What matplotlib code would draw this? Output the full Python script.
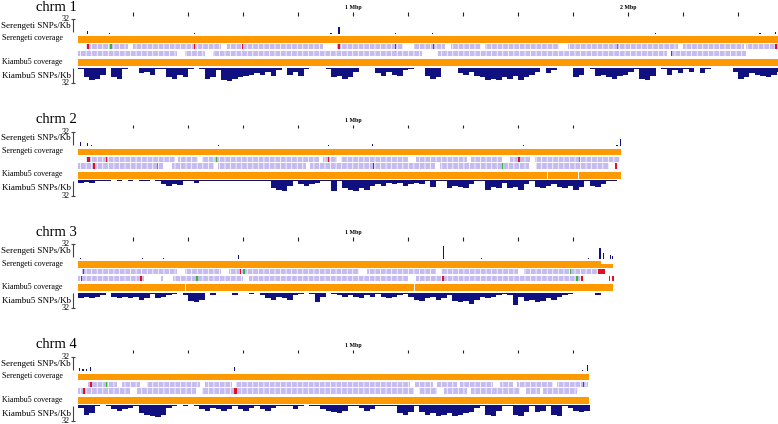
import matplotlib
matplotlib.use("Agg")
import matplotlib.pyplot as plt
import numpy as np

plt.rcParams['font.family'] = ['Liberation Serif', 'DejaVu Serif']
plt.rcParams['hatch.linewidth'] = 0.55

# ---------------- data ----------------
chrom_names = ['chrm 1', 'chrm 2', 'chrm 3', 'chrm 4']
chrom_len = [2.56, 1.975, 1.945, 1.858]           # Mbp
ruler_ticks = [0.2, 0.4, 0.6, 0.8, 1.0, 1.2, 1.4, 1.6, 1.8, 2.0, 2.2, 2.4]
ruler_labels = {1.0: '1 Mbp', 2.0: '2 Mbp'}
BIN = 0.02                                         # Mbp per SNP-density bin

# Kiambu5 SNPs/Kb, one value per 20 kb bin
kiambu_snp_1 = [3, 21, 27, 24, 15, 1.5, 21, 24, 3, 1, 1.5, 12, 9, 15, 4, 3, 21, 24, 15, 21,
                3, 1.5, 4, 24, 21, 6, 26, 28, 24, 21, 18, 15, 12, 15, 9, 18, 6, 1.5, 15, 9,
                18, 3, 1, 1, 1, 3, 21, 18, 24, 21, 9, 1, 1, 1.5, 12, 18, 9, 15, 18, 6,
                3, 1, 1.5, 18, 24, 21, 1.5, 1, 1.5, 12, 15, 9, 18, 21, 26, 24, 26, 21, 24, 18,
                26, 21, 15, 9, 1.5, 12, 6, 1.5, 1, 1, 21, 15, 1.5, 3, 18, 15, 21, 24, 18, 15,
                9, 3, 24, 26, 18, 1.5, 3, 15, 6, 12, 3, 9, 1.5, 12, 3, 1, 1, 1, 1.5, 9,
                24, 21, 12, 15, 18, 21, 15, 9]
kiambu_snp_2 = [6, 4, 7, 3, 1.5, 3, 1, 1.5, 1, 1.5, 1, 3, 1.5, 1, 1.5, 9, 12, 9, 10, 3,
                1.5, 6, 1.5, 3, 1.5, 1.5, 3, 1.5, 3, 1.5, 1.5, 3, 1.5, 1.5, 3, 18, 21, 24, 12, 1.5,
                9, 12, 9, 6, 1.5, 1.5, 24, 3, 18, 21, 24, 18, 21, 12, 9, 12, 6, 9, 6, 12,
                9, 6, 9, 3, 15, 3, 1.5, 18, 12, 15, 18, 9, 1.5, 3, 21, 15, 18, 6, 18, 15,
                21, 9, 1.5, 15, 18, 12, 9, 15, 18, 12, 21, 15, 3, 12, 15, 9, 3, 1.5, 1]
kiambu_snp_3 = [12, 9, 12, 9, 6, 1.5, 9, 12, 9, 12, 9, 15, 12, 3, 12, 9, 6, 3, 1.5, 6,
                18, 21, 15, 1.5, 6, 1, 1.5, 1, 6, 1, 1.5, 3, 1.5, 6, 12, 15, 9, 12, 15, 6,
                3, 1.5, 3, 21, 9, 1.5, 3, 6, 9, 6, 9, 12, 6, 9, 3, 9, 12, 9, 6, 3,
                9, 15, 18, 12, 9, 15, 12, 6, 18, 21, 18, 24, 15, 9, 12, 9, 6, 3, 6, 26,
                9, 18, 15, 21, 18, 12, 15, 9, 6, 3, 1.5, 1, 1.5, 1, 6, 1.5, 1]
kiambu_snp_4 = [6, 21, 18, 1.5, 1, 3, 9, 12, 9, 6, 3, 18, 21, 24, 26, 21, 6, 1.5, 1, 1.5,
                1, 1.5, 9, 12, 6, 9, 12, 9, 3, 9, 12, 6, 1.5, 9, 12, 6, 3, 1.5, 3, 9,
                1.5, 1, 1.5, 3, 9, 12, 15, 18, 12, 3, 1.5, 6, 12, 9, 3, 1.5, 3, 1.5, 18, 21,
                15, 3, 15, 21, 18, 24, 21, 18, 24, 21, 18, 15, 6, 1.5, 21, 24, 12, 1.5, 1.5, 21,
                24, 15, 3, 15, 12, 1.5, 21, 24, 3, 6, 12, 15, 12]
kiambu_snp = [kiambu_snp_1, kiambu_snp_2, kiambu_snp_3, kiambu_snp_4]

# Serengeti SNPs/Kb: isolated peaks (position Mbp, value)
sere_pos_1 = [0.033, 0.116, 0.425, 0.92, 0.949, 1.156, 1.29, 2.1, 2.48, 2.535]
sere_val_1 = [6, 2, 2, 2, 13, 2, 2, 2, 2, 4]
sere_pos_2 = [0.008, 0.033, 0.05, 0.207, 0.51, 0.91, 1.07, 1.27, 1.62, 1.96, 1.973]
sere_val_2 = [8, 6, 3, 1, 2, 3, 4, 1, 2, 3, 15]
sere_pos_3 = [0.01, 0.233, 0.31, 0.585, 1.33, 1.468, 1.855, 1.898, 1.91, 1.935, 1.945]
sere_val_3 = [2, 1, 1, 8, 26, 1, 2, 22, 12, 8, 6]
sere_pos_4 = [0.004, 0.018, 0.03, 0.045, 0.31, 0.568, 1.835, 1.852]
sere_val_4 = [6, 4, 5, 9, 1, 8, 2, 13]
sere_pos = [sere_pos_1, sere_pos_2, sere_pos_3, sere_pos_4]
sere_val = [sere_val_1, sere_val_2, sere_val_3, sere_val_4]

# gene blocks (start, end) in Mbp, two rows per chromosome
genes_r1_1 = [(0.03, 0.18), (0.2, 0.52), (0.54, 0.89), (0.94, 1.18), (1.22, 1.335),
              (1.357, 1.465), (1.48, 1.75), (1.78, 2.18), (2.2, 2.42), (2.43, 2.56)]
genes_r2_1 = [(0.0, 0.36), (0.39, 0.46), (0.49, 1.25), (1.31, 2.14), (2.16, 2.43)]
genes_r1_2 = [(0.03, 0.352), (0.364, 0.437), (0.45, 0.876), (0.89, 0.94), (0.956, 1.2),
              (1.23, 1.415), (1.43, 1.54), (1.57, 1.645), (1.66, 1.97)]
genes_r2_2 = [(0.0, 0.31), (0.34, 0.495), (0.51, 0.83), (0.845, 1.297), (1.316, 1.64),
              (1.665, 1.93)]
genes_r1_3 = [(0.015, 0.36), (0.39, 0.52), (0.55, 1.02), (1.05, 1.3), (1.32, 1.6),
              (1.62, 1.915)]
genes_r2_3 = [(0.0, 0.24), (0.3, 0.31), (0.345, 0.6), (0.62, 1.2), (1.23, 1.83)]
genes_r1_4 = [(0.036, 0.14), (0.16, 0.225), (0.25, 0.444), (0.46, 0.56), (0.575, 1.207),
              (1.225, 1.29), (1.305, 1.377), (1.39, 1.51), (1.535, 1.58), (1.595, 1.727),
              (1.74, 1.855)]
genes_r2_4 = [(0.0, 0.19), (0.215, 0.43), (0.45, 1.22), (1.24, 1.305), (1.33, 1.414),
              (1.43, 1.607), (1.63, 1.68), (1.69, 1.815)]
genes = [(genes_r1_1, genes_r2_1), (genes_r1_2, genes_r2_2),
         (genes_r1_3, genes_r2_3), (genes_r1_4, genes_r2_4)]

# highlighted genes: (chrom index, row, position Mbp, width Mbp)
red_genes = [(0, 0, 0.033, 0.006), (0, 0, 0.42, 0.005), (0, 0, 0.595, 0.005), (0, 0, 0.946, 0.008),
             (0, 0, 1.153, 0.005), (0, 0, 1.29, 0.005), (0, 0, 2.535, 0.006), (0, 1, 2.155, 0.006),
             (1, 0, 0.034, 0.01), (1, 0, 0.1, 0.004), (1, 0, 0.909, 0.004), (1, 0, 1.6, 0.006),
             (1, 1, 0.054, 0.006), (1, 1, 1.071, 0.006), (1, 1, 1.953, 0.007),
             (2, 0, 0.017, 0.006), (2, 0, 0.588, 0.004), (2, 0, 1.89, 0.025),
             (2, 1, 0.01, 0.006), (2, 1, 0.225, 0.008), (2, 1, 1.322, 0.008), (2, 1, 1.83, 0.006),
             (2, 1, 1.93, 0.006), (2, 1, 1.943, 0.006),
             (3, 0, 0.044, 0.006), (3, 0, 1.835, 0.005), (3, 1, 0.017, 0.008), (3, 1, 0.569, 0.008)]
green_genes = [(0, 0, 0.118, 0.004), (0, 0, 1.96, 0.004),
               (1, 0, 0.5, 0.007), (1, 0, 1.82, 0.004), (1, 1, 0.287, 0.004), (1, 1, 1.54, 0.004),
               (2, 0, 0.6, 0.006), (2, 0, 1.79, 0.004), (2, 1, 0.43, 0.006), (2, 1, 1.811, 0.007),
               (3, 0, 0.102, 0.004)]

# Kiambu5 coverage gaps (chrom index, position Mbp)
kiambu_cov_gaps = [(2, 0.39), (2, 1.225), (1, 1.708), (1, 1.82)]
# Serengeti coverage reduced segment (chrom, start, end, fraction)
sere_cov_low = [(2, 1.9, 1.945, 0.6)]

# ---------------- layout ----------------
W, H = 778, 424
X0, PX_PER_MB = 78, 275
panel_off = [0, 112.5, 225, 337.5]

ORANGE = '#ff9900'
NAVY = '#101080'
LAV = '#c6bbf0'
RED = '#e01020'
GREEN = '#30b830'

fig = plt.figure(figsize=(W / 100, H / 100), dpi=100)
ax = fig.add_axes([0, 0, 1, 1])
ax.set_xlim(-X0 / PX_PER_MB, (W - X0) / PX_PER_MB)
ax.set_ylim(H, 0)
ax.axis('off')


def mb(px):
    return (px - X0) / PX_PER_MB


SCALE = 15 / 32.0   # px per SNP/kb

for c in range(4):
    o = panel_off[c]
    L = chrom_len[c]
    snp_kw = dict(ha='right', va='center', fontsize=6.5, color='black')
    cov_kw = dict(ha='right', va='center', fontsize=5.8, color='black')
    # title
    ax.text(mb(77), o + 10.8, chrom_names[c], ha='right', va='baseline', fontsize=10.5)
    # ruler
    tks = [t for t in ruler_ticks if t < L]
    ax.vlines(tks, o + 12, o + 15.5, color='#222222', lw=0.8)
    for t, s in ruler_labels.items():
        if t < L:
            ax.text(t, o + 9.3, s, ha='center', va='baseline', fontsize=4.2, fontweight='bold')
    # scale bars
    for y_base, y_end in [(o + 32.0, o + 19.0), (o + 68.0, o + 83.0)]:
        ax.vlines(mb(72.5), min(y_base, y_end), max(y_base, y_end), color='#444444', lw=0.8)
        ax.hlines(y_end, mb(70.5), mb(74.5), color='#444444', lw=0.8)
        ax.text(mb(70), y_end + 0.2, '32', ha='right', va='center', fontsize=5.8)
    # labels
    ax.text(mb(71), o + 26, 'Serengeti SNPs/Kb', **snp_kw)
    ax.text(mb(63), o + 38.5, 'Serengeti coverage', **cov_kw)
    ax.text(mb(62), o + 62, 'Kiambu5 coverage', **cov_kw)
    ax.text(mb(70.5), o + 76, 'Kiambu5 SNPs/Kb', **snp_kw)

    # Serengeti SNP peaks (upwards)
    ax.bar(sere_pos[c], [-v * SCALE for v in sere_val[c]], bottom=o + 33.5,
           width=0.004, color=NAVY, linewidth=0)
    # Serengeti coverage
    ax.broken_barh([(0, L)], (o + 36, 6.5), facecolors=ORANGE, linewidth=0)
    for (ci, s, e, f) in sere_cov_low:
        if ci == c:
            ax.broken_barh([(s, e - s)], (o + 36, 6.5 * (1 - f)), facecolors='white', linewidth=0)
    # gene rows
    for r, (y0, h) in enumerate([(o + 44.0, 5.3), (o + 50.8, 5.3)]):
        blocks = genes[c][r]
        ax.broken_barh([(s, e - s) for s, e in blocks], (y0, h), facecolors=LAV,
                       edgecolor='white', linewidth=0, hatch='|||')
        for (ci, rr, p, w) in red_genes:
            if ci == c and rr == r:
                ax.bar(p, h, bottom=y0, width=w, color=RED, linewidth=0, align='edge')
        for (ci, rr, p, w) in green_genes:
            if ci == c and rr == r:
                ax.bar(p, h, bottom=y0, width=w, color=GREEN, linewidth=0, align='edge')
    # Kiambu coverage
    ax.broken_barh([(0, L)], (o + 59.3, 6.7), facecolors=ORANGE, linewidth=0)
    for (ci, p) in kiambu_cov_gaps:
        if ci == c:
            ax.bar(p, 6.7, bottom=o + 59.3, width=0.003, color='white', linewidth=0)
    # Kiambu SNPs (downwards)
    vals = np.array(kiambu_snp[c], dtype=float)
    xs = np.arange(len(vals)) * BIN
    ax.bar(xs, vals * SCALE, bottom=o + 67.5, width=BIN, color=NAVY,
           linewidth=0, align='edge')

fig.savefig('out.png', dpi=100)
